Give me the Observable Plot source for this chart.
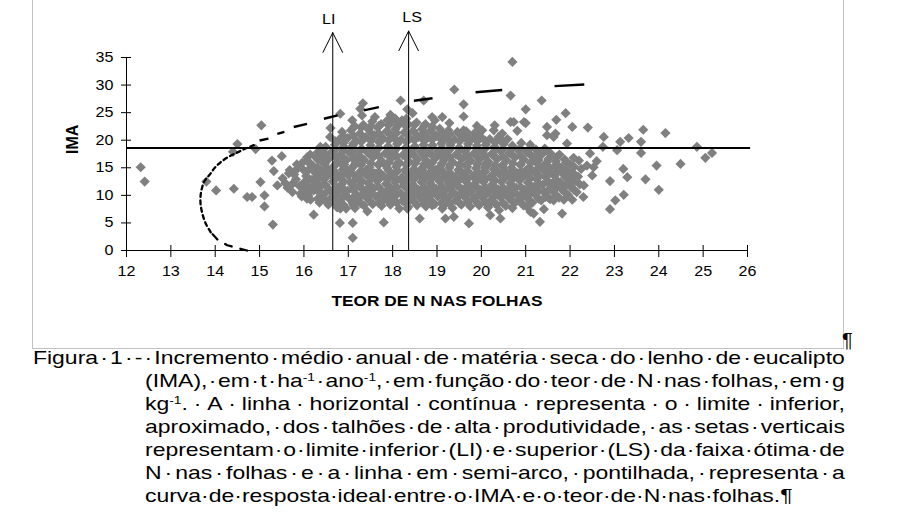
<!DOCTYPE html>
<html>
<head>
<meta charset="utf-8">
<script src="https://cdn.jsdelivr.net/npm/d3@7"></script>
<script src="https://cdn.jsdelivr.net/npm/@observablehq/plot@0.6"></script>
<style>
  html, body { margin: 0; padding: 0; background: #fff; }
  body { width: 899px; height: 518px; position: relative; overflow: hidden; font-family: "Liberation Sans", Arial, sans-serif; color: #000; }
  #frame { position: absolute; left: 32px; top: -6px; width: 812px; height: 355px; box-sizing: border-box; border: 1px solid #c0c0c0; }
  #chart { position: absolute; left: 0; top: 0; }
  #pil1 { position: absolute; left: 842px; top: 329px; font-size: 20px; line-height: 23px; }
  #caption { position: absolute; left: 33px; top: 346px; transform-origin: 0 0; font-size: 18.5px; }
  .cl { display: flex; height: 23px; line-height: 23px; white-space: nowrap; }
  .cl.just { justify-content: space-between; }
  .cl.last { justify-content: flex-start; }
  .cl sup { font-size: 0.6em; line-height: 0; vertical-align: 0.55em; }
</style>
</head>
<body>
<div id="frame"></div>
<div id="chart"></div>
<div id="pil1">¶</div>
<div id="caption"></div>
<script>
// ---------------- data ----------------
const xTicks = [12, 13, 14, 15, 16, 17, 18, 19, 20, 21, 22, 23, 24, 25, 26];
const yTicks = [0, 5, 10, 15, 20, 25, 30, 35];
const xLabel = "TEOR DE N NAS FOLHAS";
const yLabel = "IMA";

// limite inferior aproximado dos talhões de alta produtividade
const highLimit = 18.6;
const highLimitX = [12, 26.07];

// setas LI e LS
const arrowNames = ["LI", "LS"];
const arrowX = [16.65, 18.36];
const arrowTop = [39.5, 39.8];
const arrowLabelX = [16.56, 18.44];
const arrowLabelY = [41.8, 42.25];

// curva de resposta (semi-arco) – parte inferior
const arcX = [14.72, 14.5, 14.27, 14.05, 13.9, 13.78, 13.71, 13.67, 13.67, 13.7, 13.76, 13.88, 13.99, 14.12, 14.3, 14.48, 14.66, 14.87];
const arcY = [0.0, 0.45, 0.95, 2.0, 3.3, 5.0, 6.7, 8.4, 9.9, 11.3, 12.6, 13.8, 15.0, 16.0, 17.0, 17.7, 18.4, 19.1];
// curva de resposta – traços da parte superior
const dashX1 = [15.0, 15.4, 15.77, 16.45, 17.35, 18.48, 19.87, 21.65];
const dashY1 = [19.95, 21.15, 22.4, 23.9, 25.4, 27.15, 28.7, 29.8];
const dashX2 = [15.2, 15.56, 16.07, 16.76, 17.69, 18.9, 20.47, 22.32];
const dashY2 = [20.3, 21.5, 22.95, 24.5, 26.0, 27.6, 29.1, 30.1];

// pontos [teor de N, IMA]
const outliers = [
  [12.32,15.1],[12.41,12.5],[13.8,12.5],[14.02,10.9],[14.42,11.2],[14.5,19.3],[14.4,17.9],[14.72,9.7],[14.83,9.7],[14.91,18.4],
  [15.04,22.7],[15.02,12.4],[15.11,10.0],[15.11,8.0],[15.3,4.7],[15.28,16.3],[15.5,17.1],[15.32,14.4],[15.4,11.8],[15.66,14.0],
  [15.74,12.1],[15.92,10.3],[16.07,9.4],[16.22,6.5],[16.07,16.9],[16.37,18.8],[16.6,22.2],
  [16.82,7.6],[16.81,5.0],[17.1,5.0],[17.1,2.3],[17.1,8.6],[17.43,7.1],[17.8,5.1],[18.33,7.6],[18.61,5.8],[18.89,8.2],[19.12,7.6],
  [19.19,5.8],[19.38,6.1],[19.72,4.9],[20.2,6.4],[20.43,5.8],[20.2,8.5],[20.4,7.3],[20.7,7.7],[21.03,7.9],[21.18,6.7],[21.11,7.0],
  [21.32,5.2],[21.41,7.5],[21.82,6.7],[21.45,9.7],[21.63,9.1],[21.86,9.2],[22.05,9.2],[22.3,9.7]
];
const upperPoints = [
  [16.82,24.8],[17.09,23.6],[17.27,25.7],[17.31,24.5],[17.33,26.7],[17.88,23.6],[18.06,23.9],[18.18,27.2],[18.21,23.6],[18.33,25.6],
  [18.7,27.2],[18.89,24.2],[19.12,24.2],[19.39,29.2],[19.6,26.5],[19.6,24.3],[19.6,21.8],[20.02,21.8],[20.28,21.8],[20.47,21.2],
  [20.66,28.1],[20.66,23.3],[20.7,34.2],[20.73,23.3],[20.81,21.7],[20.96,23.3],[21.0,25.6],[21.0,23.1],[21.36,27.2],[21.48,22.4],
  [21.48,20.9],[21.63,20.6],[21.67,21.2],[21.69,23.7],[21.9,24.9],[21.93,19.4],[22.05,22.4],[22.4,22.3],[17.6,24.2],[17.95,24.6],
  [18.45,24.9],[18.95,23.6],[19.28,23.1],[19.9,22.6],[20.3,22.7]
];
const rightPoints = [
  [22.38,15.4],[22.53,15.1],[22.5,13.6],[22.31,11.8],[22.9,12.6],[23.02,9.1],[22.9,7.5],[23.21,10.1],[23.29,13.3],[23.2,14.8],
  [23.7,12.9],[23.95,15.4],[24.0,11.0],[24.49,15.7],[22.76,20.6],[22.74,18.8],[23.06,18.2],[23.13,19.7],[23.32,20.4],[23.6,19.7],
  [23.65,21.9],[23.6,17.7],[24.15,21.3],[24.86,18.8],[25.05,16.8],[25.2,17.7],[22.6,16.2],[22.45,17.6]
];
const coreA = [
  [15.52,13.1],[15.63,11.4],[15.68,14.6],[15.58,12.2],
  [15.74,10.6],[15.82,12.9],[15.86,14.9],[15.78,13.8],[15.9,11.7],[15.84,15.6],
  [15.95,9.8],[16.02,11.2],[16.05,13.5],[15.98,14.7],[16.08,16.3],[16.01,12.4],[16.1,10.4],[15.96,15.9],
  [16.15,9.2],[16.22,10.9],[16.18,12.8],[16.25,14.1],[16.2,15.4],[16.28,16.8],[16.14,17.4],[16.24,11.8],[16.3,13.3],
  [16.35,8.7],[16.42,10.1],[16.38,11.6],[16.45,12.9],[16.4,14.4],[16.47,15.7],[16.36,17.0],[16.44,18.4],[16.5,13.6],[16.39,16.3],
  [16.55,8.3],[16.62,9.6],[16.58,11.0],[16.65,12.5],[16.6,13.9],[16.67,15.2],[16.56,16.6],[16.63,17.9],[16.7,19.2],[16.59,20.6],[16.68,10.3],[16.54,14.8],
  [16.75,7.8],[16.82,9.1],[16.78,10.7],[16.85,12.0],[16.8,13.4],[16.88,14.7],[16.76,16.1],[16.83,17.5],[16.9,18.8],[16.79,20.1],[16.86,21.5],[16.74,11.4],[16.91,15.6],
  [16.95,7.6],[17.02,9.4],[16.98,10.8],[17.05,12.3],[17.0,13.6],[17.08,15.0],[16.96,16.4],[17.03,17.7],[17.1,19.0],[16.99,20.4],[17.06,21.8],[17.11,11.6],[16.97,14.3],
  [17.15,7.7],[17.22,8.9],[17.18,10.2],[17.25,11.7],[17.2,13.1],[17.28,14.4],[17.16,15.8],[17.23,17.2],[17.3,18.5],[17.19,19.9],[17.26,21.2],[17.14,22.6],[17.31,12.5],[17.21,16.6],
  [17.35,8.2],[17.42,9.5],[17.38,10.9],[17.45,12.2],[17.4,13.7],[17.48,15.1],[17.36,16.4],[17.43,17.8],[17.5,19.1],[17.39,20.5],[17.46,21.9],[17.34,22.8],[17.51,11.5],[17.41,14.6]
];
const coreB = [
  [17.55,8.4],[17.62,9.8],[17.58,11.3],[17.65,12.6],[17.6,14.0],[17.68,15.5],[17.56,16.9],[17.63,18.2],[17.7,19.6],[17.59,20.9],[17.66,22.3],[17.54,23.4],[17.71,13.2],[17.61,17.6],
  [17.75,8.1],[17.82,9.3],[17.78,10.6],[17.85,12.1],[17.8,13.5],[17.88,14.9],[17.76,16.2],[17.83,17.6],[17.9,18.9],[17.79,20.3],[17.86,21.6],[17.74,22.9],[17.91,11.2],[17.81,15.7],
  [17.95,8.3],[18.02,9.7],[17.98,11.1],[18.05,12.4],[18.0,13.8],[18.08,15.2],[17.96,16.6],[18.03,17.9],[18.1,19.3],[17.99,20.7],[18.06,22.0],[17.94,23.3],[18.11,14.5],[18.01,10.4],
  [18.15,7.6],[18.22,9.0],[18.18,10.4],[18.25,11.8],[18.2,13.2],[18.28,14.6],[18.16,15.9],[18.23,17.3],[18.3,18.7],[18.19,20.1],[18.26,21.4],[18.14,22.8],[18.31,23.9],[18.21,12.6],
  [18.35,7.9],[18.42,9.3],[18.38,10.7],[18.45,12.0],[18.4,13.5],[18.48,14.8],[18.36,16.2],[18.43,17.6],[18.5,18.9],[18.39,20.3],[18.46,21.7],[18.34,23.0],[18.51,15.8],[18.41,11.3],
  [18.55,8.2],[18.62,9.6],[18.58,11.0],[18.65,12.4],[18.6,13.7],[18.68,15.1],[18.56,16.5],[18.63,17.9],[18.7,19.2],[18.59,20.6],[18.66,22.0],[18.54,23.2],[18.71,10.3],[18.61,14.3],
  [18.75,8.0],[18.82,9.4],[18.78,10.8],[18.85,12.2],[18.8,13.6],[18.88,14.9],[18.76,16.3],[18.83,17.7],[18.9,19.1],[18.79,20.4],[18.86,21.8],[18.74,22.9],[18.91,11.5],[18.81,15.6],
  [18.95,8.4],[19.02,9.8],[18.98,11.2],[19.05,12.6],[19.0,13.9],[19.08,15.3],[18.96,16.7],[19.03,18.0],[19.1,19.4],[18.99,20.8],[19.06,22.1],[19.11,10.5],[18.97,14.6],[19.01,17.2],
  [19.15,8.1],[19.22,9.5],[19.18,10.9],[19.25,12.3],[19.2,13.6],[19.28,15.0],[19.16,16.4],[19.23,17.8],[19.3,19.1],[19.19,20.5],[19.26,21.8],[19.14,14.2],[19.31,11.6],
  [19.35,7.7],[19.42,9.1],[19.38,10.5],[19.45,11.9],[19.4,13.3],[19.48,14.6],[19.36,16.0],[19.43,17.4],[19.5,18.7],[19.39,20.1],[19.46,21.5],[19.34,12.7],[19.51,15.4]
];
const coreC = [
  [19.55,8.3],[19.62,9.7],[19.58,11.1],[19.65,12.5],[19.6,13.8],[19.68,15.2],[19.56,16.6],[19.63,17.9],[19.7,19.3],[19.59,20.7],[19.66,21.6],[19.54,14.4],[19.71,10.4],
  [19.75,8.0],[19.82,9.4],[19.78,10.8],[19.85,12.1],[19.8,13.5],[19.88,14.9],[19.76,16.3],[19.83,17.6],[19.9,19.0],[19.79,20.3],[19.86,21.4],[19.74,11.6],[19.91,15.7],
  [19.95,8.2],[20.02,9.6],[19.98,11.0],[20.05,12.4],[20.0,13.7],[20.08,15.1],[19.96,16.5],[20.03,17.8],[20.1,19.2],[19.99,20.6],[20.06,14.4],[20.11,10.3],
  [20.15,7.8],[20.22,9.2],[20.18,10.6],[20.25,12.0],[20.2,13.3],[20.28,14.7],[20.16,16.1],[20.23,17.5],[20.3,18.8],[20.19,20.2],[20.26,11.3],[20.14,15.4],
  [20.35,8.3],[20.42,9.7],[20.38,11.1],[20.45,12.5],[20.4,13.9],[20.48,15.2],[20.36,16.6],[20.43,18.0],[20.5,19.3],[20.39,20.6],[20.46,10.4],[20.34,14.5],
  [20.55,8.1],[20.62,9.5],[20.58,10.9],[20.65,12.2],[20.6,13.6],[20.68,15.0],[20.56,16.4],[20.63,17.7],[20.7,19.0],[20.59,20.2],[20.66,11.6],[20.54,14.3],
  [20.75,8.6],[20.82,10.0],[20.78,11.4],[20.85,12.8],[20.8,14.1],[20.88,15.5],[20.76,16.9],[20.83,18.2],[20.9,19.5],[20.79,13.4],[20.86,9.3],
  [20.95,8.2],[21.02,9.6],[20.98,11.0],[21.05,12.3],[21.0,13.7],[21.08,15.1],[20.96,16.5],[21.03,17.8],[21.1,19.2],[20.99,14.4],[21.06,10.3],
  [21.15,8.7],[21.22,10.1],[21.18,11.5],[21.25,12.9],[21.2,14.2],[21.28,15.6],[21.16,17.0],[21.23,18.3],[21.3,13.5],[21.19,16.3],
  [21.35,9.1],[21.42,10.5],[21.38,11.9],[21.45,13.3],[21.4,14.6],[21.48,16.0],[21.36,17.4],[21.43,18.5],[21.5,12.6],[21.39,15.3],
  [21.55,9.3],[21.62,10.7],[21.58,12.1],[21.65,13.5],[21.6,14.8],[21.68,16.2],[21.56,17.6],[21.63,11.4],[21.7,15.5],
  [21.75,9.6],[21.82,11.0],[21.78,12.4],[21.85,13.8],[21.8,15.1],[21.88,16.5],[21.76,17.4],[21.83,14.4],
  [21.95,10.1],[22.02,11.5],[21.98,12.9],[22.05,14.2],[22.0,15.6],[22.08,16.8],[21.96,13.6],
  [22.15,10.6],[22.22,12.0],[22.18,13.4],[22.25,14.8],[22.2,16.3]
];
// adensamento do núcleo: [teor de N, lista de IMA]
const coreD = [
  [16.1, [9.9, 11.6, 13.0, 14.6, 16.0]],
  [16.31, [9.4, 10.8, 12.2, 13.8, 15.1, 16.5, 17.8]],
  [16.49, [9.0, 10.5, 11.9, 13.2, 14.7, 16.1, 17.4, 18.8]],
  [16.71, [8.6, 10.0, 11.4, 12.9, 14.2, 15.6, 17.0, 18.4, 19.8]],
  [16.89, [8.3, 9.8, 11.2, 12.6, 14.0, 15.3, 16.8, 18.2, 19.5, 20.8]],
  [17.11, [8.2, 9.6, 11.0, 12.4, 13.9, 15.2, 16.6, 18.0, 19.4, 20.9, 22.2]],
  [17.29, [8.5, 9.9, 11.3, 12.7, 14.1, 15.5, 16.9, 18.3, 19.7, 21.0, 22.3]],
  [17.51, [8.8, 10.2, 11.6, 13.0, 14.4, 15.8, 17.2, 18.5, 19.9, 21.3, 22.6]],
  [17.69, [8.6, 10.0, 11.5, 12.9, 14.3, 15.7, 17.1, 18.6, 19.9, 21.2, 22.6]],
  [17.91, [8.9, 10.3, 11.7, 13.1, 14.5, 15.9, 17.3, 18.7, 20.0, 21.4, 22.7]],
  [18.09, [8.7, 10.1, 11.5, 12.9, 14.3, 15.7, 17.1, 18.5, 19.9, 21.3, 22.7]],
  [18.31, [8.5, 9.9, 11.3, 12.7, 14.1, 15.5, 16.9, 18.3, 19.7, 21.1, 22.5]],
  [18.49, [8.8, 10.2, 11.6, 13.0, 14.4, 15.8, 17.2, 18.6, 20.0, 21.4, 22.8]],
  [18.71, [8.6, 10.0, 11.5, 12.9, 14.3, 15.7, 17.1, 18.5, 19.9, 21.3, 22.6]],
  [18.89, [8.9, 10.3, 11.7, 13.1, 14.5, 15.9, 17.3, 18.7, 20.1, 21.4, 22.5]],
  [19.11, [8.7, 10.1, 11.6, 13.0, 14.4, 15.8, 17.2, 18.6, 20.0, 21.4]],
  [19.29, [8.5, 9.9, 11.3, 12.7, 14.1, 15.5, 16.9, 18.3, 19.7, 21.1]],
  [19.51, [8.6, 10.0, 11.4, 12.8, 14.2, 15.6, 17.0, 18.4, 19.8, 21.0]],
  [19.69, [8.8, 10.2, 11.6, 13.0, 14.4, 15.8, 17.2, 18.6, 20.0, 21.2]],
  [19.91, [8.6, 10.0, 11.4, 12.8, 14.2, 15.6, 17.0, 18.4, 19.8, 21.0]],
  [20.09, [8.7, 10.1, 11.5, 12.9, 14.3, 15.7, 17.1, 18.5, 19.9]],
  [20.31, [8.5, 9.9, 11.3, 12.7, 14.1, 15.5, 16.9, 18.2, 19.6]],
  [20.49, [8.6, 10.0, 11.4, 12.8, 14.2, 15.6, 17.0, 18.4, 19.7]],
  [20.71, [8.8, 10.2, 11.6, 13.0, 14.4, 15.8, 17.2, 18.6]],
  [20.89, [8.7, 10.1, 11.5, 12.9, 14.3, 15.7, 17.1, 18.4]],
  [21.11, [8.9, 10.3, 11.7, 13.1, 14.5, 15.9, 17.3, 18.6]],
  [21.29, [9.4, 10.8, 12.2, 13.6, 15.0, 16.4, 17.7]],
  [21.51, [9.6, 11.0, 12.4, 13.8, 15.2, 16.6, 17.9]],
  [21.69, [10.0, 11.4, 12.8, 14.2, 15.6, 16.9]],
  [21.91, [10.4, 11.8, 13.2, 14.6, 16.0]],
  [22.09, [11.0, 12.4, 13.8, 15.2]]
];

const captionLines = [
  "Figura 1 - Incremento médio anual de matéria seca do lenho de eucalipto",
  "(IMA), em t ha{-1} ano{-1}, em função do teor de N nas folhas, em g",
  "kg{-1}. A linha horizontal contínua representa o limite inferior,",
  "aproximado, dos talhões de alta produtividade, as setas verticais",
  "representam o limite inferior (LI) e superior (LS) da faixa ótima de",
  "N nas folhas e a linha em semi-arco, pontilhada, representa a",
  "curva de resposta ideal entre o IMA e o teor de N nas folhas.¶"
];

// ---------------- chart ----------------
const pairs = [...coreA, ...coreB, ...coreC, ...outliers, ...upperPoints, ...rightPoints];
coreD.forEach(([n, list]) => list.forEach(ima => pairs.push([n, ima])));
const points = pairs.map(([n, ima]) => ({n, ima}));
const arc = arcX.map((x, i) => ({x, y: arcY[i]}));
const arcLow = arc.slice(0, 5);
const arcMid = arc.slice(4);
const dashes = dashX1.map((x, i) => ({x1: x, y1: dashY1[i], x2: dashX2[i], y2: dashY2[i]}));
const arrows = arrowNames.map((name, i) => ({name, x: arrowX[i], top: arrowTop[i], lx: arrowLabelX[i], ly: arrowLabelY[i]}));

const chart = Plot.plot({
  width: 899,
  height: 340,
  marginLeft: 126,
  marginRight: 152,
  marginTop: 57,
  marginBottom: 90,
  style: {fontFamily: "'Liberation Sans', Arial, sans-serif", fontSize: "14px", color: "#000", background: "transparent", overflow: "visible"},
  x: {domain: [12, 26], ticks: xTicks, tickSize: 0, tickPadding: 16, tickFormat: d => String(d), label: null},
  y: {domain: [0, 35], ticks: yTicks, tickSize: 0, tickPadding: 13, tickFormat: d => String(d), label: null},
  marks: [
    Plot.dot(points, {x: "n", y: "ima", symbol: "diamond2", r: 4.6, fill: "#808080", stroke: null}),
    // axes lines
    Plot.ruleY([0], {x1: 12, x2: 26, stroke: "#000", strokeWidth: 1}),
    Plot.ruleX([12], {y1: 0, y2: 35, stroke: "#000", strokeWidth: 1}),
    // tick marks crossing the axes
    Plot.ruleX(xTicks, {x: d => d, y1: 0, y2: 0, insetTop: 7, insetBottom: 5, stroke: "#000", strokeWidth: 1}),
    Plot.ruleY(yTicks, {y: d => d, x1: 12, x2: 12, insetLeft: -5, insetRight: -5, stroke: "#000", strokeWidth: 1}),
    // horizontal limit line
    Plot.ruleY([highLimit], {x1: highLimitX[0], x2: highLimitX[1], stroke: "#000", strokeWidth: 2}),
    // arrows
    Plot.arrow(arrows, {x1: "x", y1: 0, x2: "x", y2: "top", headAngle: 53, headLength: 33, stroke: "#000", strokeWidth: 1}),
    Plot.text(arrows, {x: "lx", y: "ly", text: "name", fontSize: 14, fill: "#000"}),
    // response curve
    Plot.line(arcLow, {x: "x", y: "y", stroke: "#000", strokeWidth: 2.3, strokeDasharray: "7,9"}),
    Plot.line(arcMid, {x: "x", y: "y", stroke: "#000", strokeWidth: 2.3, strokeDasharray: "4,3.5", curve: "catmull-rom"}),
    Plot.link(dashes, {x1: "x1", y1: "y1", x2: "x2", y2: "y2", stroke: "#000", strokeWidth: 2.4}),
    // axis titles
    Plot.text([xLabel], {frameAnchor: "bottom", dy: 55.5, fontWeight: "bold", fontSize: 15, fill: "#000"}),
    Plot.text([yLabel], {frameAnchor: "left", dx: -53.5, rotate: -90, fontWeight: "bold", fontSize: 16, fill: "#000"})
  ]
});
document.getElementById("chart").appendChild(chart);

// slightly widen the (horizontally stretched) Arial-like lettering of the original
const STRETCH = 1.15;
chart.querySelectorAll("text").forEach(t => {
  const tr = (t.getAttribute("transform") || "") + (t.parentNode.getAttribute("transform") || "");
  if (tr.includes("rotate")) return;
  const w = t.getComputedTextLength();
  if (w > 0) {
    t.setAttribute("textLength", (w * STRETCH).toFixed(2));
    t.setAttribute("lengthAdjust", "spacingAndGlyphs");
  }
});

// ---------------- caption ----------------
const CAP_STRETCH = 1.24;
const cap = document.getElementById("caption");
const fullWidth = 812, indent = 112;
cap.style.transform = `scaleX(${CAP_STRETCH})`;
cap.style.width = (fullWidth / CAP_STRETCH) + "px";
captionLines.forEach((line, i) => {
  const div = document.createElement("div");
  div.className = "cl " + (i === captionLines.length - 1 ? "last" : "just");
  if (i > 0) div.style.marginLeft = (indent / CAP_STRETCH) + "px";
  const words = line.split(" ");
  words.forEach((w, j) => {
    const span = document.createElement("span");
    span.innerHTML = w.replace(/\{([^}]*)\}/g, "<sup>$1</sup>");
    div.appendChild(span);
    if (j < words.length - 1) {
      const dot = document.createElement("span");
      dot.textContent = "·";
      div.appendChild(dot);
    }
  });
  cap.appendChild(div);
});
</script>
</body>
</html>
